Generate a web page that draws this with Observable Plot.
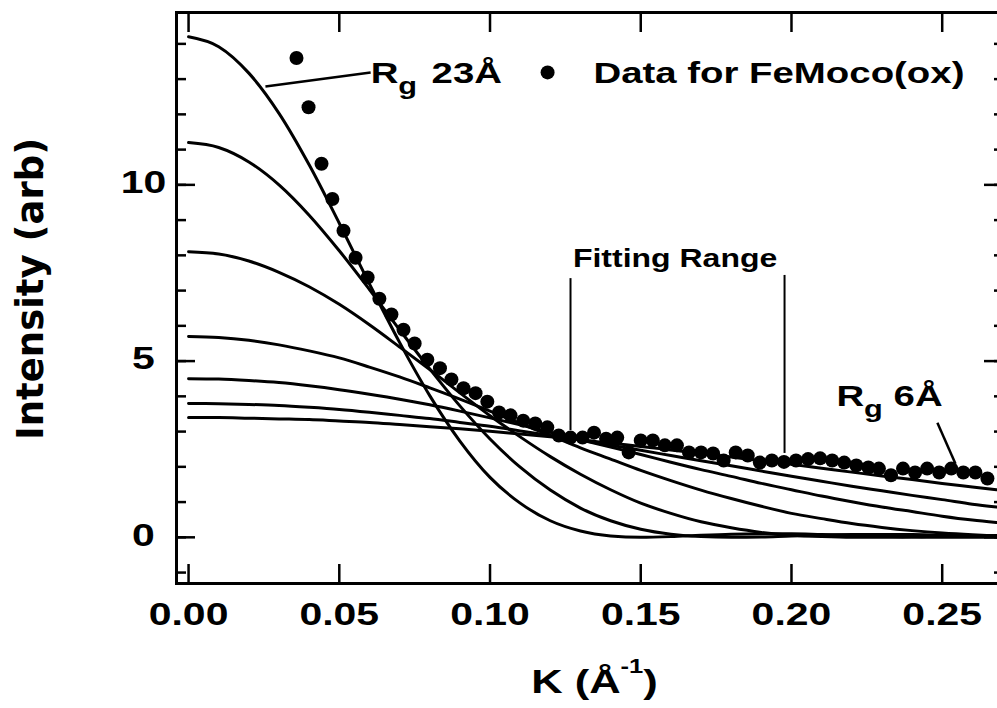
<!DOCTYPE html>
<html><head><meta charset="utf-8">
<script src="https://cdn.jsdelivr.net/npm/d3@7"></script>
<script src="https://cdn.jsdelivr.net/npm/@observablehq/plot@0.6"></script>
<style>
html,body{margin:0;padding:0;background:#fff;overflow:hidden;}
#chart svg{display:block;overflow:hidden;}
</style></head><body><div id="chart"></div>
<script>
// ---- model curves ----
const kGrid = [0, 0.01, 0.02, 0.03, 0.04, 0.05, 0.06, 0.07, 0.08, 0.09, 0.10, 0.11, 0.12, 0.13, 0.14, 0.15, 0.16, 0.17, 0.18, 0.19, 0.20, 0.21, 0.22, 0.23, 0.24, 0.25, 0.26, 0.268];
const curveRg23 = [14.2, 13.92, 13.17, 12.03, 10.57, 8.91, 7.19, 5.53, 4.02, 2.73, 1.70, 0.97, 0.47, 0.18, 0.04, 0.0, 0.02, 0.06, 0.09, 0.10, 0.10, 0.08, 0.06, 0.03, 0.01, 0.0, 0.0, 0.0];
const curveRg19 = [11.2, 11.06, 10.65, 10.0, 9.14, 8.13, 7.03, 5.89, 4.78, 3.73, 2.79, 1.99, 1.34, 0.83, 0.47, 0.23, 0.09, 0.02, 0.0, 0.01, 0.04, 0.06, 0.08, 0.08, 0.08, 0.06, 0.05, 0.04];
const curveRg15 = [8.1, 8.04, 7.84, 7.52, 7.11, 6.61, 6.03, 5.40, 4.76, 4.10, 3.45, 2.85, 2.29, 1.79, 1.35, 0.97, 0.68, 0.44, 0.27, 0.14, 0.06, 0.02, 0.0, 0.0, 0.01, 0.03, 0.04, 0.05];
const curveRg12 = [5.7, 5.67, 5.59, 5.46, 5.29, 5.09, 4.83, 4.55, 4.24, 3.92, 3.58, 3.23, 2.89, 2.54, 2.22, 1.90, 1.61, 1.34, 1.10, 0.88, 0.68, 0.53, 0.39, 0.28, 0.19, 0.12, 0.07, 0.04];
const curveRg9 = [4.5, 4.49, 4.45, 4.39, 4.30, 4.19, 4.06, 3.92, 3.76, 3.58, 3.39, 3.19, 2.98, 2.77, 2.56, 2.35, 2.13, 1.92, 1.73, 1.53, 1.35, 1.17, 1.01, 0.86, 0.73, 0.60, 0.49, 0.42];
const curveRg7 = [3.8, 3.79, 3.77, 3.74, 3.69, 3.63, 3.55, 3.46, 3.37, 3.26, 3.15, 3.02, 2.89, 2.76, 2.61, 2.47, 2.32, 2.17, 2.03, 1.88, 1.73, 1.59, 1.45, 1.32, 1.19, 1.07, 0.94, 0.86];
const curveRg6 = [3.4, 3.40, 3.38, 3.36, 3.34, 3.30, 3.26, 3.20, 3.14, 3.08, 3.01, 2.93, 2.85, 2.77, 2.67, 2.58, 2.48, 2.38, 2.28, 2.17, 2.07, 1.96, 1.85, 1.74, 1.64, 1.53, 1.43, 1.35];
const seriesNames = ["Rg 23", "Rg 19", "Rg 15", "Rg 12", "Rg 9", "Rg 7", "Rg 6"];
const seriesValues = [curveRg23, curveRg19, curveRg15, curveRg12, curveRg9, curveRg7, curveRg6];

// ---- measured data: FeMoco(ox) ----
const dataK = [0.0358, 0.0398, 0.0441, 0.0477, 0.0514, 0.0554, 0.0594, 0.0633, 0.0673, 0.0713, 0.0750, 0.0792, 0.0834, 0.0872, 0.0912, 0.0952, 0.0991, 0.1030, 0.1068, 0.1110, 0.1150, 0.1190, 0.1228, 0.1267, 0.1307, 0.1345, 0.1385, 0.1422, 0.1460, 0.1500, 0.1540, 0.1580, 0.1620, 0.1660, 0.1700, 0.1740, 0.1775, 0.1815, 0.1855, 0.1895, 0.1935, 0.1975, 0.2015, 0.2055, 0.2095, 0.2135, 0.2175, 0.2215, 0.2255, 0.2290, 0.2330, 0.2370, 0.2410, 0.2450, 0.2490, 0.2530, 0.2570, 0.2610, 0.2650];
const dataI = [13.6, 12.2, 10.6, 9.6, 8.7, 7.93, 7.37, 6.77, 6.32, 5.89, 5.50, 5.04, 4.80, 4.48, 4.23, 4.09, 3.85, 3.54, 3.46, 3.31, 3.23, 3.12, 2.89, 2.83, 2.83, 2.97, 2.80, 2.83, 2.41, 2.75, 2.75, 2.61, 2.61, 2.41, 2.41, 2.38, 2.18, 2.41, 2.32, 2.12, 2.18, 2.14, 2.18, 2.22, 2.24, 2.18, 2.12, 2.04, 1.98, 1.95, 1.76, 1.95, 1.84, 1.95, 1.84, 1.95, 1.84, 1.84, 1.67];

// ---- ticks ----
const xTicks = [0, 0.05, 0.10, 0.15, 0.20, 0.25];
const xTickLabels = ["0.00", "0.05", "0.10", "0.15", "0.20", "0.25"];
const yMajorTicks = [0, 5, 10];
const yTickLabels = ["0", "5", "10"];
const yMinorTicks = [-1, 0, 1, 2, 3, 4, 5, 6, 7, 8, 9, 10, 11, 12, 13, 14];

// ---- annotations (positions in data units) ----
const rgLabels = [{k: 0.0604, i: 12.90, label: "Rg 23Å"}, {k: 0.2149, i: 3.74, label: "Rg 6Å"}];
const leaders = [{k1: 0.0255, i1: 12.79, k2: 0.0604, i2: 13.19}, {k1: 0.2484, i1: 3.25, k2: 0.2544, i2: 2.09}];
const legendDot = [{k: 0.1191, i: 13.19}];
const legendText = [{k: 0.1343, i: 12.90, label: "Data for FeMoco(ox)"}];
const fitLines = [{k: 0.1267, i1: 7.34, i2: 3.03}, {k: 0.1977, i1: 7.43, i2: 2.38}];
const fitLabel = [{k: 0.1614, i: 7.68, label: "Fitting Range"}];
const xLabel = ["K (Å-1)"];
const yLabel = ["Intensity (arb)"];

const curves = seriesNames.flatMap((name, s) => kGrid.map((k, j) => ({series: name, k, i: seriesValues[s][j]})));
const points = dataK.map((k, j) => ({k, i: dataI[j]}));

const SANS = "'Liberation Sans', Arial, Helvetica, sans-serif";
const plot = Plot.plot({
  width: 997, height: 708,
  marginLeft: 176, marginRight: -5, marginTop: 12, marginBottom: 125,
  x: {domain: [-0.004, 0.27], axis: null},
  y: {domain: [-1.31, 14.89], axis: null},
  style: {fontFamily: SANS, background: "white", color: "black"},
  marks: [
    Plot.frame({stroke: "black", strokeWidth: 3}),
    Plot.axisX(xTicks, {anchor: "bottom", tickSize: 19, dy: -19, fill: "none", strokeWidth: 2.5}),
    Plot.axisX(xTicks, {anchor: "top", tickSize: 19, dy: 19, fill: "none", strokeWidth: 2.5}),
    Plot.axisY(yMinorTicks, {anchor: "left", tickSize: 10, dx: 10, fill: "none", strokeWidth: 2.5}),
    Plot.axisY(yMajorTicks, {anchor: "left", tickSize: 19, dx: 19, fill: "none", strokeWidth: 2.5}),
    Plot.axisY(yMinorTicks, {anchor: "right", tickSize: 9, dx: -9, fill: "none", strokeWidth: 2.5}),
    Plot.axisY(yMajorTicks, {anchor: "right", tickSize: 19, dx: -19, fill: "none", strokeWidth: 2.5}),
    Plot.text(xTicks, {x: d => d, text: (d, j) => xTickLabels[j], frameAnchor: "bottom", lineAnchor: "top", dy: 19, fontSize: 32, fontWeight: "bold"}),
    Plot.text(yMajorTicks, {y: d => d, text: (d, j) => yTickLabels[j], frameAnchor: "left", dx: -33, dy: -2, textAnchor: "middle", fontSize: 32, fontWeight: "bold"}),
    Plot.text(yLabel, {text: d => d, frameAnchor: "left", rotate: -90, dx: -134, dy: -9, lineAnchor: "bottom", textAnchor: "middle", fontSize: 37, fontWeight: "bold", fontFamily: "'DejaVu Sans', sans-serif"}),
    Plot.text(xLabel, {text: d => d, frameAnchor: "bottom", dx: 5, dy: 109, lineAnchor: "bottom", textAnchor: "middle", fontSize: 34, fontWeight: "bold"}),
    Plot.line(curves, {x: "k", y: "i", z: "series", stroke: "black", strokeWidth: 3, curve: "monotone-x"}),
    Plot.dot(points, {x: "k", y: "i", r: 7, fill: "black", stroke: "none"}),
    Plot.ruleX(fitLines, {x: "k", y1: "i1", y2: "i2", stroke: "black", strokeWidth: 2}),
    Plot.text(fitLabel, {x: "k", y: "i", text: "label", textAnchor: "middle", lineAnchor: "bottom", fontSize: 25, fontWeight: "bold"}),
    Plot.link(leaders, {x1: "k1", y1: "i1", x2: "k2", y2: "i2", stroke: "black", strokeWidth: 2.5}),
    Plot.dot(legendDot, {x: "k", y: "i", r: 7, fill: "black", stroke: "none"}),
    Plot.text(legendText, {x: "k", y: "i", text: "label", textAnchor: "start", lineAnchor: "bottom", fontSize: 30, fontWeight: "bold"}),
    Plot.text(rgLabels, {x: "k", y: "i", text: "label", textAnchor: "start", lineAnchor: "bottom", fontSize: 30, fontWeight: "bold"})
  ]
});

const NS = "http://www.w3.org/2000/svg";
function tspan(txt, attrs) {
  const t = document.createElementNS(NS, "tspan");
  for (const [a, v] of Object.entries(attrs)) t.setAttribute(a, v);
  t.textContent = txt;
  return t;
}
const allTexts = Array.from(plot.querySelectorAll("text"));
const stretchSet = new Set([...xTickLabels, ...yTickLabels, ...xLabel, ...fitLabel.map(d => d.label), ...legendText.map(d => d.label), ...rgLabels.map(d => d.label)]);
allTexts.forEach(t => {
  const s = t.textContent;
  if (!stretchSet.has(s)) return;
  // the figure's lettering is horizontally wide
  t.setAttribute("transform", (t.getAttribute("transform") || "") + " scale(1.28,1)");
  if (rgLabels.some(d => d.label === s)) {
    const rest = s.slice(2);
    t.textContent = "R";
    t.appendChild(tspan("g", {"font-size": 24, dy: 11, dx: 0}));
    t.appendChild(tspan(rest, {"font-size": 30, dy: -11, dx: s.includes("23") ? 3 : 0}));
  } else if (xLabel.includes(s)) {
    t.textContent = "K (Å";
    t.appendChild(tspan("-1", {"font-size": 20, dy: -20}));
    t.appendChild(tspan(")", {"font-size": 34, dy: 20}));
  }
});
document.getElementById("chart").appendChild(plot);
</script></body></html>
